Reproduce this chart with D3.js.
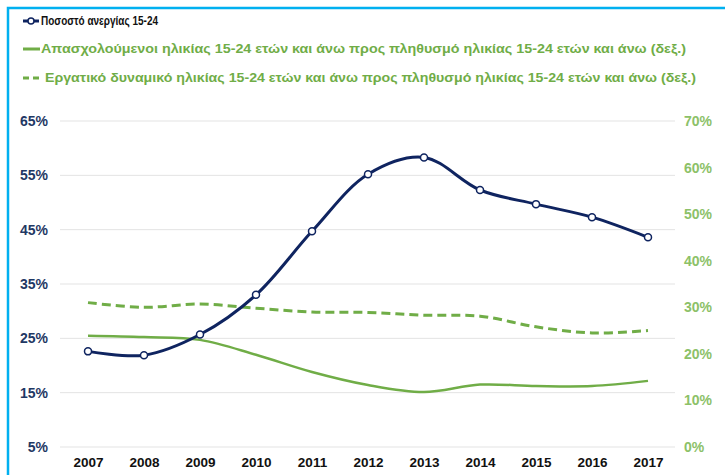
<!DOCTYPE html>
<html>
<head>
<meta charset="utf-8">
<script src="https://cdn.jsdelivr.net/npm/d3@7"></script>
<style>
  body { margin: 0; background: #fff; }
  svg { display: block; font-family: "Liberation Sans", Arial, sans-serif; }
</style>
</head>
<body>
<script>
const years = [2007, 2008, 2009, 2010, 2011, 2012, 2013, 2014, 2015, 2016, 2017];
const unemployment = [22.6, 21.9, 25.7, 33.0, 44.7, 55.2, 58.3, 52.3, 49.7, 47.3, 43.6];
const employed = [23.9, 23.6, 23.0, 19.8, 16.1, 13.3, 11.8, 13.4, 13.1, 13.1, 14.2];
const labourForce = [31.0, 30.0, 30.7, 29.8, 29.0, 28.9, 28.3, 28.1, 25.8, 24.5, 25.0];
const leftTicks = [5, 15, 25, 35, 45, 55, 65];
const rightTicks = [0, 10, 20, 30, 40, 50, 60, 70];
const legendLabels = [
  "Ποσοστό ανεργίας 15-24",
  "Απασχολούμενοι ηλικίας 15-24 ετών και άνω προς πληθυσμό ηλικίας 15-24 ετών και άνω (δεξ.)",
  "Εργατικό δυναμικό ηλικίας 15-24 ετών και άνω προς πληθυσμό ηλικίας 15-24 ετών και άνω (δεξ.)"
];

const navy = "#0f2460";
const green = "#70ad47";

const width = 725, height = 475;
const svg = d3.select("body").append("svg")
  .attr("width", width).attr("height", height);

// frame (blue top/left border)
svg.append("path")
  .attr("d", "M8,475 L8,8 L725,8")
  .attr("fill", "none")
  .attr("stroke", "#00b0f0")
  .attr("stroke-width", 2.5);

const x = d3.scalePoint().domain(years).range([88, 648]);
const yL = d3.scaleLinear().domain([5, 65]).range([447, 121]);
const yR = d3.scaleLinear().domain([0, 70]).range([447, 121]);

// gridlines
svg.append("g")
  .selectAll("line")
  .data(leftTicks)
  .enter()
  .append("line")
  .attr("x1", 60).attr("x2", 675)
  .attr("y1", d => yL(d)).attr("y2", d => yL(d))
  .attr("stroke", "#e3e3e3")
  .attr("stroke-width", 1);

// left axis
const leftAxis = svg.append("g")
  .attr("transform", "translate(48,0)")
  .call(d3.axisLeft(yL).tickValues(leftTicks).tickFormat(d => d + "%").tickSize(0).tickPadding(0));
leftAxis.select(".domain").remove();
leftAxis.selectAll("text")
  .attr("fill", "#1f3864")
  .style("font-size", "14px")
  .style("font-weight", "bold");

// right axis
const rightAxis = svg.append("g")
  .attr("transform", "translate(684,0)")
  .call(d3.axisRight(yR).tickValues(rightTicks).tickFormat(d => d + "%").tickSize(0).tickPadding(0));
rightAxis.select(".domain").remove();
rightAxis.selectAll("text")
  .attr("fill", "#8cc168")
  .style("font-size", "14px")
  .style("font-weight", "bold");

// x axis
const xAxis = svg.append("g")
  .attr("transform", "translate(0,457)")
  .call(d3.axisBottom(x).tickSize(0).tickPadding(0));
xAxis.select(".domain").remove();
xAxis.selectAll("text")
  .attr("fill", "#111")
  .style("font-size", "13.5px")
  .style("font-weight", "bold");

const curve = d3.curveCatmullRom.alpha(0.5);

// labour force (dashed, right axis)
svg.append("path")
  .datum(labourForce)
  .attr("fill", "none")
  .attr("stroke", green)
  .attr("stroke-width", 3)
  .attr("stroke-dasharray", "9,5")
  .attr("d", d3.line().x((d, i) => x(years[i])).y(d => yR(d)).curve(curve));

// employed (solid, right axis)
svg.append("path")
  .datum(employed)
  .attr("fill", "none")
  .attr("stroke", green)
  .attr("stroke-width", 2.5)
  .attr("d", d3.line().x((d, i) => x(years[i])).y(d => yR(d)).curve(curve));

// unemployment (navy, left axis)
svg.append("path")
  .datum(unemployment)
  .attr("fill", "none")
  .attr("stroke", navy)
  .attr("stroke-width", 3)
  .attr("d", d3.line().x((d, i) => x(years[i])).y(d => yL(d)).curve(curve));

svg.selectAll(".dot")
  .data(unemployment)
  .enter()
  .append("circle")
  .attr("class", "dot")
  .attr("cx", (d, i) => x(years[i]))
  .attr("cy", d => yL(d))
  .attr("r", 3.5)
  .attr("fill", "#fff")
  .attr("stroke", navy)
  .attr("stroke-width", 1.5);

// legend
const legendY = [21, 49, 78];
const legend = svg.append("g");

legend.append("line")
  .attr("x1", 23).attr("x2", 39).attr("y1", legendY[0]).attr("y2", legendY[0])
  .attr("stroke", navy).attr("stroke-width", 3);
legend.append("circle")
  .attr("cx", 31).attr("cy", legendY[0]).attr("r", 3)
  .attr("fill", "#fff").attr("stroke", navy).attr("stroke-width", 1.5);

legend.append("line")
  .attr("x1", 23).attr("x2", 40).attr("y1", legendY[1]).attr("y2", legendY[1])
  .attr("stroke", green).attr("stroke-width", 3);

legend.append("line")
  .attr("x1", 23).attr("x2", 40).attr("y1", legendY[2]).attr("y2", legendY[2])
  .attr("stroke", green).attr("stroke-width", 3)
  .attr("stroke-dasharray", "6,4");

const legendColors = ["#111", green, green];
const legendLengths = [117, 645, 651];
legend.selectAll(".ltext")
  .data(legendLabels)
  .enter()
  .append("text")
  .attr("class", "ltext")
  .attr("x", (d, i) => i === 2 ? 45 : 41)
  .attr("y", (d, i) => legendY[i])
  .attr("dy", "0.35em")
  .attr("fill", (d, i) => legendColors[i])
  .attr("textLength", (d, i) => legendLengths[i])
  .attr("lengthAdjust", "spacingAndGlyphs")
  .style("font-size", "12.5px")
  .style("font-weight", "bold")
  .text(d => d);
</script>
</body>
</html>
